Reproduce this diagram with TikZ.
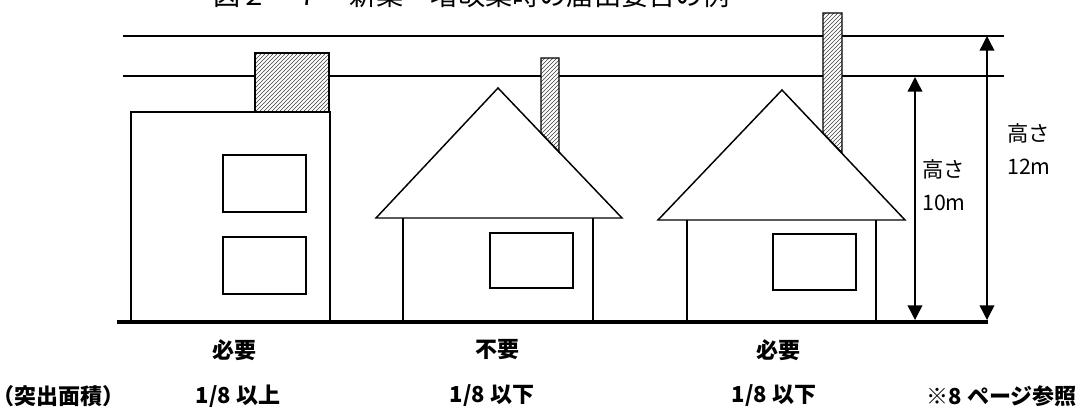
\documentclass[tikz,border=0pt]{standalone}
\usepackage{fontspec}
\setmainfont{Noto Sans CJK JP}
\usetikzlibrary{arrows.meta}
\usetikzlibrary{patterns}

\tikzset{
  wall/.style={line width=1.1pt},
  hatch/.style={line width=1.1pt, preaction={fill=white}, pattern=north east lines, pattern color=black!75},
  dim/.style={line width=1.1pt, {Triangle[length=11pt,width=11pt]}-{Triangle[length=11pt,width=11pt]}},
  caption/.style={font=\fontsize{16.5}{18}\selectfont\bfseries, inner sep=0pt},
  hlabel/.style={font=\fontsize{16}{25}\selectfont, align=left, inner sep=0pt}
}

\begin{document}
\begin{tikzpicture}[x=0.75pt,y=-0.75pt]
 \useasboundingbox (0,0) rectangle (1079,419);
 \clip (0,0) rectangle (1079,419);

 % title, only its lower edge stays on the page
 \node[anchor=base west, inner sep=0pt, font=\fontsize{20.4}{24}\selectfont] (title) at (213,5) {図２－７　新築・増改築時の届出要否の例};

 % 12m and 10m levels
 \draw[wall] (123,36) -- (1004,36);
 \draw[wall] (123,76) -- (1004,76);

 % flat roof building
 \draw[wall] (131,322) rectangle (330,112);
 \draw[wall] (223,155) rectangle (306,212);
 \draw[wall] (223,237) rectangle (306,294);
 \draw[hatch] (255,53) rectangle (329,112);

 % house, low chimney
 \draw[hatch] (541,58) -- (559,58) -- (559,152) -- (541,133) -- cycle;
 \draw[wall] (376,218) -- (498,88) -- (622,218) -- cycle;
 \draw[wall] (403,218) -- (403,322);
 \draw[wall] (593,218) -- (593,322);
 \draw[wall] (490,233) rectangle (573,288);

 % house, tall chimney
 \draw[hatch] (823,13) -- (842,13) -- (842,153) -- (823,133) -- cycle;
 \draw[wall] (658,220) -- (782,90) -- (905,220) -- cycle;
 \draw[wall] (687,220) -- (687,322);
 \draw[wall] (876,220) -- (876,322);
 \draw[wall] (773,234) rectangle (856,290);

 % ground
 \draw[line width=3.2pt] (117,322) -- (988,322);

 % heights
 \coordinate (h10top) at (915,77);
 \coordinate (h10bot) at (915,320);
 \coordinate (h12top) at (987,36);
 \coordinate (h12bot) at (987,320);
 \draw[dim] (h10bot) -- (h10top);
 \draw[dim] (h12bot) -- (h12top);
 \node[hlabel] (h10) at (944,185) {高さ\\10m};
 \node[hlabel] (h12) at (1029,149) {高さ\\12m};

 % captions
 \node[caption] (need1) at (234,350) {必要};
 \node[caption] (noneed) at (497,350) {不要};
 \node[caption] (need2) at (778,350) {必要};
 \node[caption, anchor=west] (area) at (-8,396) {（突出面積）};
 \node[caption] (ratio1) at (238,396) {1/8 以上};
 \node[caption] (ratio2) at (492,396) {1/8 以下};
 \node[caption] (ratio3) at (774,396) {1/8 以下};
 \node[caption, anchor=east] (note) at (1077,396) {※8 ページ参照};
\end{tikzpicture}
\end{document}
